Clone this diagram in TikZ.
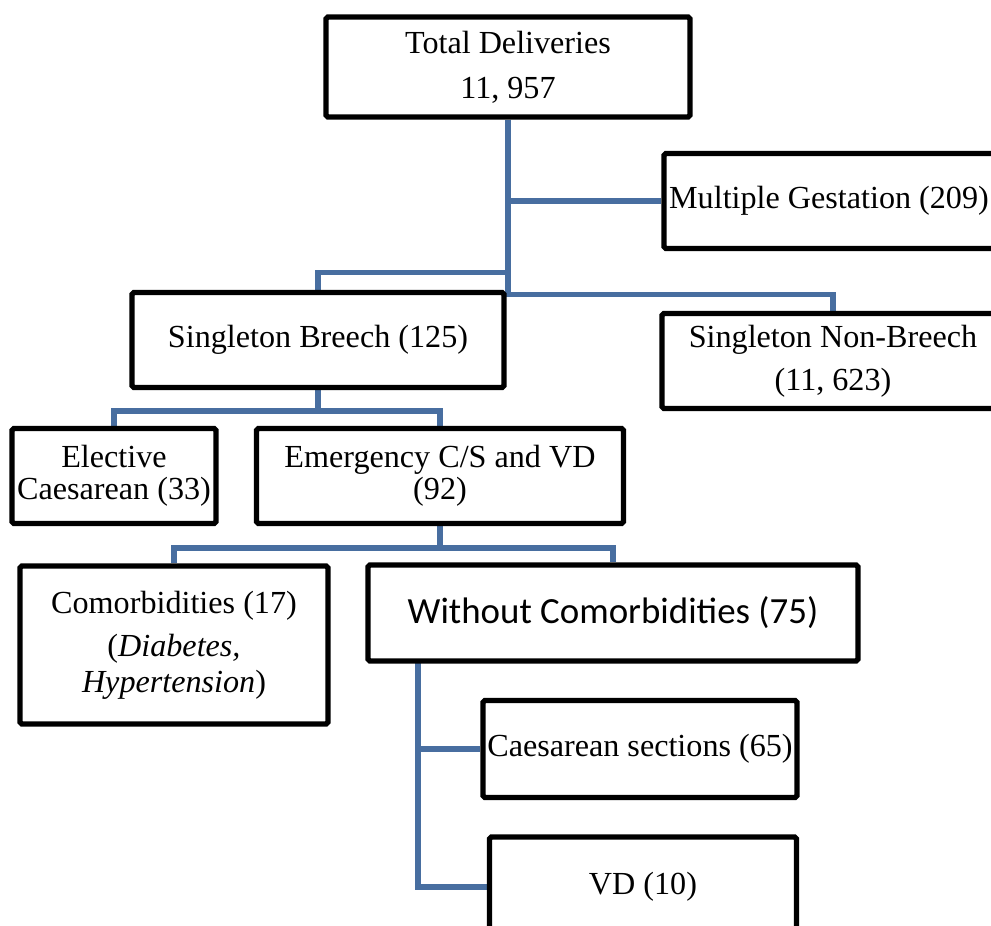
\documentclass[tikz,border=0pt]{standalone}
\usepackage{fontspec}
\setmainfont{Liberation Serif}
\newfontfamily\calibrifont{Carlito}
\usetikzlibrary{positioning, backgrounds}
\definecolor{linkblue}{RGB}{72,110,160}

\begin{document}
\begin{tikzpicture}[x=0.02cm, y=-0.02cm,
            box node/.style={draw=black, line width=3pt, rounded corners=1pt, fill=white,
                align=center, inner sep=0pt, font=\fontsize{18.3}{20.5}\selectfont},
            link/.style={draw=linkblue, line width=3pt}]

            \path[use as bounding box, clip] (0,0) rectangle (991,926);

            \node[box node, minimum width=7.28cm, minimum height=2cm] (total) at (508,67)
                {Total Deliveries\\[5pt]11, 957};
            \node[box node, minimum width=6.8cm, minimum height=1.9cm] (multi) at (834,201)
                {\hspace*{-0.2cm}Multiple Gestation (209)};
            \node[box node, minimum width=7.44cm, minimum height=1.9cm] (breech) at (318,340)
                {Singleton Breech (125)};
            \node[box node, minimum width=6.84cm, minimum height=1.9cm] (nonbreech) at (833,361)
                {Singleton Non-Breech\\[4pt](11, 623)};
            \node[box node, minimum width=4.08cm, minimum height=1.9cm] (elective) at (114,476)
                {Elective\\[-2pt]Caesarean (33)};
            \node[box node, minimum width=7.34cm, minimum height=1.9cm] (emergency) at (440,476)
                {Emergency C/S and VD\\[-2pt](92)};
            \node[box node, minimum width=6.16cm, minimum height=3.16cm] (comorb) at (174,645)
                {Comorbidities (17)\\[4pt](\textit{Diabetes,}\\\textit{Hypertension})};
            \node[box node, minimum width=9.8cm, minimum height=1.92cm,
                font=\calibrifont\fontsize{21}{24}\selectfont] (without) at (613,613)
                {Without Comorbidities (75)};
            \node[box node, minimum width=6.28cm, minimum height=1.94cm] (caes) at (640,749)
                {Caesarean sections (65)};
            \node[box node, minimum width=6.14cm, minimum height=2cm] (vd) at (643,887)
                {VD (10)};

            \coordinate (ws) at (418,661);

            \begin{scope}[on background layer]
                \draw[link] (total.south) |- (multi.west);
                \draw[link] (total.south) -- ++(0,153) -| (breech.north);
                \draw[link] (total.south) -- ++(0,175) -| (nonbreech.north);
                \draw[link] (breech.south) -- ++(0,21) -| (elective.north);
                \draw[link] (breech.south) -- ++(0,21) -| (emergency.north);
                \draw[link] (emergency.south) -- ++(0,22) -| (comorb.north);
                \draw[link] (emergency.south) -- ++(0,22) -| (without.north);
                \draw[link] (ws) |- (caes.west);
                \draw[link] (ws) |- (vd.west);
            \end{scope}

        \end{tikzpicture}
\end{document}
